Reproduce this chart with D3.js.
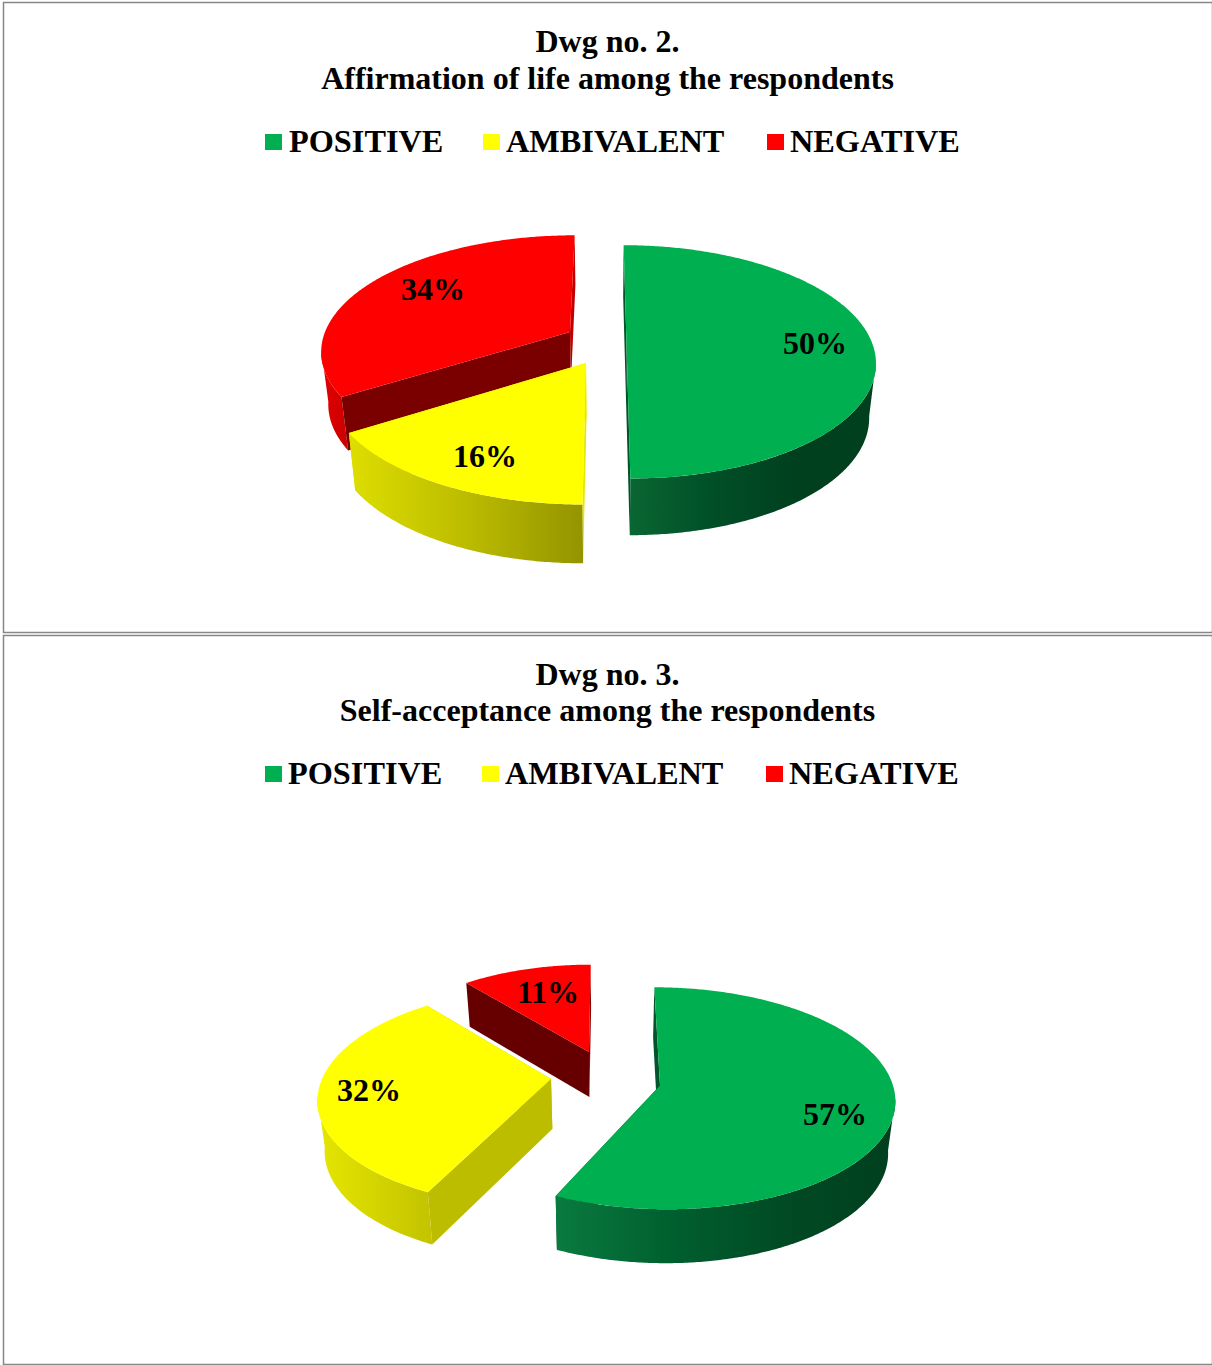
<!DOCTYPE html>
<meta charset="utf-8">
<title>Dwg no. 2 and 3</title>
<script src="https://d3js.org/d3.v7.min.js"></script>
<style>
html, body { margin: 0; background: #fff; }
svg { display: block; }
text { font-family: "Liberation Serif", serif; font-weight: bold; fill: #000; }
</style>
<body>
<script>

var categories = ["POSITIVE", "AMBIVALENT", "NEGATIVE"];
var colors = ["#00b050", "#ffff00", "#ff0000"];

var affirmationValues = [50, 16, 34];
var selfAcceptanceValues = [57, 32, 11];

var width = 1212, height = 1365;

// ax/ay = apex of the exploded slice, R = radius, k = tilt, p = perspective, d = wall height
var charts = [
  {
    id: "a", values: affirmationValues,
    frame: [3, 2, 1209, 630], vx: 605,
    titles: ["Dwg no. 2.", "Affirmation of life among the respondents"], titleY: [52, 89],
    legendX: [265, 483, 767], legendTextX: [289, 506, 790], legendY: 134,
    slices: [
      {ax: 626.5, ay: 344, R: 246, k: 0.463, p: 0.153, d: 54, lx: 815, ly: 354,
        side: ["#0a6633", "#004f27", "#00401f", "#00401f"], faceStart: "#00552a", faceEnd: "#00552a"},
      {ax: 586, ay: 363, R: 256, k: 0.468, p: 0.153, d: 56, lx: 485, ly: 467,
        side: ["#dede00", "#bcbc00", "#949400"], faceStart: "#e6e600", faceEnd: "#e6e600"},
      {ax: 570, ay: 332, R: 245, k: 0.455, p: 0.153, d: 52, lx: 433, ly: 300,
        side: ["#e40000", "#d00000"], faceStart: "#7a0000", faceEnd: "#c00000"}
    ],
    order: [2, 1, 0]
  },
  {
    id: "b", values: selfAcceptanceValues,
    frame: [3, 635, 1209, 729], vx: 605,
    titles: ["Dwg no. 3.", "Self-acceptance among the respondents"], titleY: [685, 721],
    legendX: [265, 482, 766], legendTextX: [288, 505, 789], legendY: 766,
    slices: [
      {ax: 660, ay: 1085.5, R: 233, k: 0.47, p: 0.115, d: 52, lx: 835, ly: 1125,
        side: ["#0a7a40", "#00602f", "#004a24", "#003f1e"], faceStart: "#00552a", faceEnd: "#00552a"},
      {ax: 551, ay: 1079, R: 229, k: 0.467, p: 0.16, d: 50, lx: 369, ly: 1101,
        side: ["#e6e600", "#c4c400"], faceStart: "#bdbd00", faceEnd: "#bdbd00"},
      {ax: 589, ay: 1052, R: 213, k: 0.46, p: 0.122, d: 45, lx: 548, ly: 1003,
        side: ["#800000", "#660000"], faceStart: "#660000", faceEnd: "#800000"}
    ],
    order: [2, 1, 0]
  }
];

var pie = d3.pie().sort(null).value(function(d) { return d; });
var line = d3.line();

var svg = d3.select("body").append("svg")
  .attr("width", width)
  .attr("height", height);

var defs = svg.append("defs");

charts.forEach(function(chart) {
  var g = svg.append("g");

  g.append("rect")
    .attr("x", chart.frame[0] + 0.5)
    .attr("y", chart.frame[1] + 0.5)
    .attr("width", chart.frame[2])
    .attr("height", chart.frame[3])
    .attr("fill", "#fff")
    .attr("stroke", "#868686")
    .attr("stroke-width", 1.5);

  g.selectAll(".title")
    .data(chart.titles)
    .enter().append("text")
    .attr("class", "title")
    .attr("x", 607.5)
    .attr("y", function(d, i) { return chart.titleY[i]; })
    .attr("text-anchor", "middle")
    .attr("font-size", 32)
    .text(function(d) { return d; });

  var legend = g.selectAll(".legend")
    .data(categories)
    .enter().append("g")
    .attr("class", "legend");

  legend.append("rect")
    .attr("x", function(d, i) { return chart.legendX[i]; })
    .attr("y", chart.legendY)
    .attr("width", 17)
    .attr("height", 16)
    .attr("fill", function(d, i) { return colors[i]; });

  legend.append("text")
    .attr("x", function(d, i) { return chart.legendTextX[i]; })
    .attr("y", chart.legendY + 18)
    .attr("font-size", 32.3)
    .text(function(d) { return d; });

  var arcs = pie(chart.values);

  chart.order.forEach(function(i) {
    drawSlice(g, chart, chart.slices[i], arcs[i], i);
  });

  // labels go on top of every slice
  chart.order.forEach(function(i) {
    var s = chart.slices[i];
    g.append("text")
      .attr("x", s.lx)
      .attr("y", s.ly)
      .attr("text-anchor", "middle")
      .attr("font-size", 32)
      .text(chart.values[i] + "%");
  });
});

function drawSlice(g, chart, s, arc, i) {
  var e = s.ax - chart.vx;

  function persp(a) { return 1 / (1 + s.p * Math.cos(a)); }

  function top(a) {
    var q = persp(a);
    return [
      s.ax + (s.R * Math.sin(a) + e) * q - e,
      s.ay - s.k * s.R * Math.cos(a) * q
    ];
  }

  function lower(pt, q) {
    return [chart.vx + (pt[0] - chart.vx) * 0.975, pt[1] + s.d * Math.pow(q, 0.3)];
  }

  function bottom(a) { return lower(top(a), persp(a)); }

  function sweep(a0, a1) {
    return d3.range(a0, a1, 0.01).concat([a1]);
  }

  var startA = arc.startAngle, endA = arc.endAngle;
  var apex = [s.ax, s.ay];
  var apexLow = lower(apex, 1);

  g.append("path")
    .attr("d", line([apex, top(endA), bottom(endA), apexLow]) + "Z")
    .attr("fill", s.faceEnd);

  // outer wall only between the two extreme points of the rim, so its ends are the silhouette
  var edge = Math.acos(-s.p);
  var wall0 = Math.max(startA, edge), wall1 = Math.min(endA, 2 * Math.PI - edge);

  if (wall0 < wall1) {
    var wallAngles = sweep(wall0, wall1);
    var wallTop = wallAngles.map(top);
    var wallBottom = wallAngles.map(bottom).reverse();

    var gradId = "side-" + chart.id + i;
    var xs = wallTop.map(function(d) { return d[0]; });
    var grad = defs.append("linearGradient")
      .attr("id", gradId)
      .attr("gradientUnits", "userSpaceOnUse")
      .attr("x1", d3.min(xs))
      .attr("x2", d3.max(xs))
      .attr("y1", 0)
      .attr("y2", 0);
    grad.selectAll("stop")
      .data(s.side)
      .enter().append("stop")
      .attr("offset", function(d, j) { return j / (s.side.length - 1); })
      .attr("stop-color", function(d) { return d; });

    g.append("path")
      .attr("d", line(wallTop.concat(wallBottom)) + "Z")
      .attr("fill", "url(#" + gradId + ")");
  }

  g.append("path")
    .attr("d", line([apex, top(startA), bottom(startA), apexLow]) + "Z")
    .attr("fill", s.faceStart);

  g.append("path")
    .attr("d", line([apex].concat(sweep(startA, endA).map(top))) + "Z")
    .attr("fill", colors[i]);
}

</script>
</body>
